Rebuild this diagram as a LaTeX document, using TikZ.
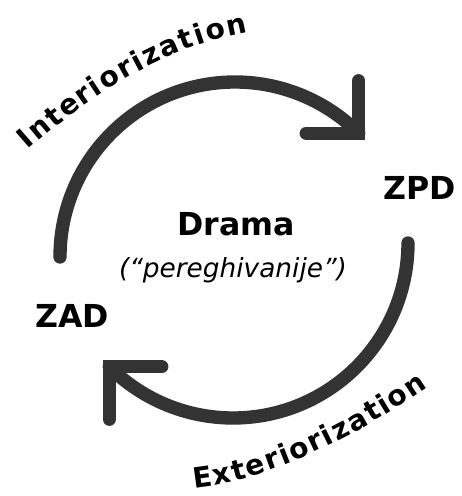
\documentclass[tikz,border=0pt]{standalone}
\usepackage{fontspec}
\setmainfont{DejaVu Sans}
\usepackage{xcolor}
\usepackage{tikz}
\usetikzlibrary{decorations.text}
\definecolor{arcgray}{HTML}{333333}

\begin{document}
\begin{tikzpicture}[
	loopline/.style={draw=arcgray, line width=7.6pt, line cap=round},
	barbline/.style={loopline, line join=miter},
	zone/.style={font=\bfseries\fontsize{18}{20}\selectfont, inner sep=0pt},
	curved/.style={decorate, decoration={text along path, text align=fit to path, text={|\bfseries\fontsize{16}{18}\selectfont|#1}}}
]
	\useasboundingbox (0,0) rectangle (9.24,9.92);
	\node[zone] (zpd) at (8.40,6.16) {ZPD};
	\node[zone] (zad) at (1.44,3.60) {ZAD};
	\node[zone] (drama) at (4.72,5.43) {Drama};
	\node[inner sep=0pt, font=\itshape\fontsize{15}{17}\selectfont] (pereg) at (4.66,4.52) {(“pereghivanije”)};
	\coordinate (topstart) at (1.20,4.78);
	\coordinate (botstart) at (8.16,5.06);
	\draw[loopline] (topstart) arc[start angle=180, end angle=45, radius=3.5] coordinate (toptip);
	\draw[barbline] ([yshift=1.05cm]toptip) -- (toptip) -- ([xshift=-1.05cm]toptip);
	\draw[loopline] (botstart) arc[start angle=0, end angle=-135, radius=3.5] coordinate (bottip);
	\draw[barbline] ([xshift=1.05cm]bottip) -- (bottip) -- ([yshift=-1.05cm]bottip);
	\path[curved=Interiorization] (0.56,6.92) .. controls (1.70,7.92) and (3.20,8.96) .. (4.96,9.28);
	\path[curved=Exteriorization] (3.88,0.16) .. controls (5.47,0.32) and (7.25,1.28) .. (8.56,2.18);
\end{tikzpicture}
\end{document}
